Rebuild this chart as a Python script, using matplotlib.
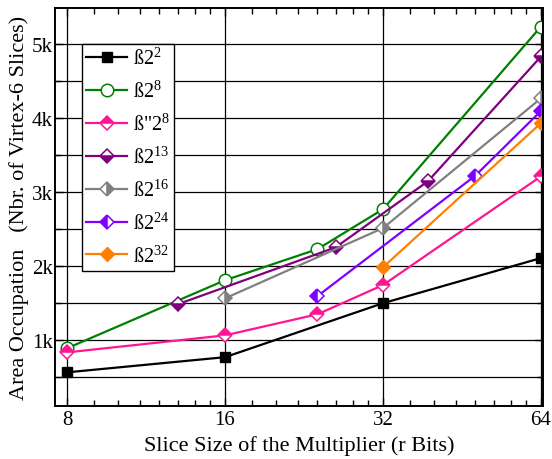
import matplotlib
matplotlib.use("Agg")
import matplotlib.pyplot as plt
from matplotlib.ticker import FixedLocator, FixedFormatter, NullFormatter

plt.rcParams['font.family'] = ['Liberation Serif', 'DejaVu Serif']
plt.rcParams['mathtext.fontset'] = 'custom'
plt.rcParams['mathtext.rm'] = 'Liberation Serif'
plt.rcParams['mathtext.it'] = 'Liberation Serif:italic'

# Slice sizes (r bits) and area in slices for each multiplier variant
x_b2_2 = [8, 16, 32, 64]
y_b2_2 = [565, 770, 1500, 2110]

x_b2_8 = [8, 16, 24, 32, 64]
y_b2_8 = [890, 1810, 2230, 2770, 5240]

x_bpp2_8 = [8, 16, 24, 32, 64]
y_bpp2_8 = [835, 1065, 1350, 1745, 3215]

x_b2_13 = [13, 26, 39, 64]
y_b2_13 = [1485, 2255, 3150, 4835]

x_b2_16 = [16, 32, 64]
y_b2_16 = [1565, 2515, 4270]

x_b2_24 = [24, 48, 64]
y_b2_24 = [1595, 3225, 4100]

x_b2_32 = [32, 64]
y_b2_32 = [1985, 3935]

x_ticks = [8, 16, 32, 64]
x_tick_labels = ['8', '16', '32', '64']
y_ticks = [1000, 2000, 3000, 4000, 5000]
y_tick_labels = ['1k', '2k', '3k', '4k', '5k']

fig = plt.figure(figsize=(5.52, 4.60), dpi=100)
ax = fig.add_axes([0.0996, 0.1152, 0.8841, 0.8652])

lw = 1.6
ax.plot(x_b2_2, y_b2_2, color='black', lw=lw, marker='s', ms=7,
        label='ß2$^{2}$')
ax.plot(x_b2_8, y_b2_8, color='#008000', lw=lw, marker='o', ms=9,
        mfc='white', mec='#008000', mew=1.1, label='ß2$^{8}$')
ax.plot(x_bpp2_8, y_bpp2_8, color='#ff1493', lw=lw, marker='D', ms=7.5,
        fillstyle='top', mfc='#ff1493', mfcalt='white', mec='#ff1493',
        mew=1.1, label='ß"2$^{8}$')
ax.plot(x_b2_13, y_b2_13, color='#800080', lw=lw, marker='D', ms=7.5,
        fillstyle='bottom', mfc='#800080', mfcalt='white', mec='#800080',
        mew=1.1, label='ß2$^{13}$')
ax.plot(x_b2_16, y_b2_16, color='#808080', lw=lw, marker='D', ms=7.5,
        fillstyle='right', mfc='#808080', mfcalt='white', mec='#808080',
        mew=1.1, label='ß2$^{16}$')
ax.plot(x_b2_24, y_b2_24, color='#8000ff', lw=lw, marker='D', ms=7.5,
        fillstyle='left', mfc='#8000ff', mfcalt='white', mec='#8000ff',
        mew=1.1, label='ß2$^{24}$')
ax.plot(x_b2_32, y_b2_32, color='#ff8000', lw=lw, marker='D', ms=7.5,
        label='ß2$^{32}$')

ax.set_xscale('log', base=2)
ax.set_xlim(7.59, 64.56)
ax.set_ylim(110, 5490)

ax.xaxis.set_major_locator(FixedLocator(x_ticks))
ax.xaxis.set_major_formatter(FixedFormatter(x_tick_labels))
minor_x = [v for v in range(9, 16)] + [v for v in range(18, 32, 2)] + \
          [v for v in range(36, 64, 4)]
ax.xaxis.set_minor_locator(FixedLocator(minor_x))
ax.xaxis.set_minor_formatter(NullFormatter())

ax.yaxis.set_major_locator(FixedLocator(y_ticks))
ax.yaxis.set_major_formatter(FixedFormatter(y_tick_labels))
ax.yaxis.set_minor_locator(FixedLocator([500, 1500, 2500, 3500, 4500]))
ax.yaxis.set_minor_formatter(NullFormatter())

ax.tick_params(which='both', direction='in', top=True, right=True,
               labelsize=15, colors='black', width=1.0)
ax.tick_params(which='major', length=6)
ax.tick_params(which='minor', length=4)
ax.tick_params(axis='x', which='major', pad=3)
ax.tick_params(axis='y', which='major', pad=1.5)

ax.xaxis.grid(True, which='major', color='black', lw=0.9)
ax.yaxis.grid(True, which='both', color='black', lw=0.9)
ax.set_axisbelow(True)
for s in ax.spines.values():
    s.set_linewidth(1.4)

ax.set_xlabel('Slice Size of the Multiplier (r Bits)', fontsize=16,
              labelpad=4)
ax.set_ylabel('Area Occupation   (Nbr. of Virtex-6 Slices)', fontsize=16,
              labelpad=2)

leg = ax.legend(loc='upper left', bbox_to_anchor=(0.0553, 0.9095),
                fontsize=14.5, frameon=True, fancybox=False, framealpha=1,
                edgecolor='black', handlelength=2.05, labelspacing=0.58,
                borderpad=0.2, handletextpad=0.3, borderaxespad=0)
leg.get_frame().set_linewidth(1.0)

fig.savefig('out.png', dpi=100)
